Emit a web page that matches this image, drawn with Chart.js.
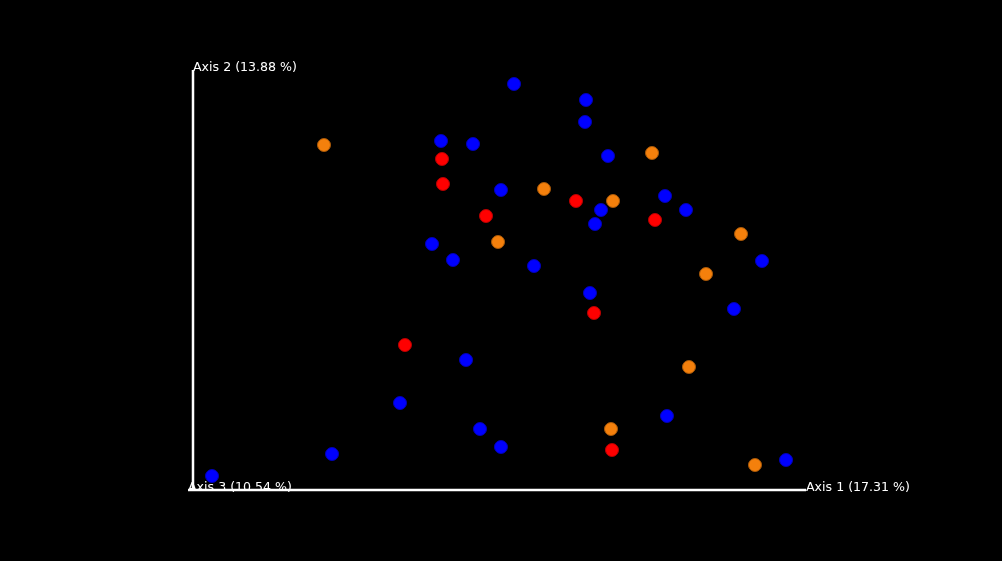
<!DOCTYPE html>
<html>
<head>
<meta charset="utf-8">
<script src="https://cdn.jsdelivr.net/npm/chart.js@4/dist/chart.umd.min.js"></script>
<style>
html,body{margin:0;padding:0;background:#000;}
#wrap{width:1002px;height:561px;position:relative;}
</style>
</head>
<body>
<div id="wrap"><canvas id="c" width="1002" height="561"></canvas></div>
<script>
// Axis labels
const axisLabels = ["Axis 1 (17.31 %)", "Axis 2 (13.88 %)", "Axis 3 (10.54 %)"];
const groupNames = ["Group A", "Group B", "Group C"];

// Group A (blue) coordinates: axis 1, axis 2
const blueX = [52.37, 64.11, 63.95, 40.46, 45.68, 67.70, 50.24, 77.00, 80.42, 66.56, 65.58, 38.99, 42.41, 55.63, 92.82, 64.76, 88.25, 44.54, 33.77, 77.32, 46.82, 50.24, 22.68, 96.74, 3.10];
const blueY = [96.67, 92.86, 87.62, 83.10, 82.38, 79.52, 71.43, 70.00, 66.67, 66.67, 63.33, 58.57, 54.76, 53.33, 54.52, 46.90, 43.10, 30.95, 20.71, 17.62, 14.52, 10.24, 8.57, 7.14, 3.33];

// Group B (red)
const redX = [40.62, 40.78, 47.80, 62.48, 75.37, 65.42, 34.58, 68.35];
const redY = [78.81, 72.86, 65.24, 68.81, 64.29, 42.14, 34.52, 9.52];

// Group C (orange)
const orangeX = [21.37, 74.88, 57.26, 68.52, 49.76, 89.40, 83.69, 80.91, 68.19, 91.68];
const orangeY = [82.14, 80.24, 71.67, 68.81, 59.05, 60.95, 51.43, 29.29, 14.52, 5.95];

function pts(xs, ys){ return xs.map((x,i)=>({x:x, y:ys[i]})); }

const axesPlugin = {
  id: 'pcoaAxes',
  beforeDatasetsDraw(chart){
    const ctx = chart.ctx, sx = chart.scales.x, sy = chart.scales.y;
    const x0 = sx.getPixelForValue(sx.min), x1 = sx.getPixelForValue(sx.max);
    const y0 = sy.getPixelForValue(sy.min), y1 = sy.getPixelForValue(sy.max);
    ctx.save();
    ctx.strokeStyle = '#ffffff';
    ctx.lineWidth = 2.5;
    ctx.beginPath();
    ctx.moveTo(x0, y0); ctx.lineTo(x0, y1);
    ctx.moveTo(x0 - 5, y0); ctx.lineTo(x1, y0);
    ctx.stroke();
    ctx.restore();
  },
  afterDatasetsDraw(chart){
    const ctx = chart.ctx, sx = chart.scales.x, sy = chart.scales.y;
    const x0 = sx.getPixelForValue(sx.min), x1 = sx.getPixelForValue(sx.max);
    const y0 = sy.getPixelForValue(sy.min), y1 = sy.getPixelForValue(sy.max);
    ctx.save();
    ctx.fillStyle = '#ffffff';
    ctx.font = '12.6px "DejaVu Sans", Verdana, sans-serif';
    ctx.textBaseline = 'alphabetic';
    ctx.textAlign = 'left';
    ctx.fillText(axisLabels[1], x0, y1 + 1);
    ctx.fillText(axisLabels[2], x0 - 5, y0 + 1);
    ctx.fillText(axisLabels[0], x1, y0 + 1);
    ctx.restore();
  }
};

new Chart(document.getElementById('c'), {
  type: 'scatter',
  data: {
    datasets: [
      {label: groupNames[0], data: pts(blueX, blueY), backgroundColor: '#0000ff', borderColor: '#0000b8', borderWidth: 1, pointRadius: 6.5, pointHoverRadius: 6.5},
      {label: groupNames[1], data: pts(redX, redY), backgroundColor: '#ff0000', borderColor: '#b80000', borderWidth: 1, pointRadius: 6.5, pointHoverRadius: 6.5},
      {label: groupNames[2], data: pts(orangeX, orangeY), backgroundColor: '#f4800c', borderColor: '#a85808', borderWidth: 1, pointRadius: 6.5, pointHoverRadius: 6.5}
    ]
  },
  options: {
    responsive: false,
    animation: false,
    layout: {padding: {left: 193, right: 196, top: 70, bottom: 71}},
    plugins: {legend: {display: false}, tooltip: {enabled: false}},
    scales: {
      x: {type: 'linear', min: 0, max: 100, display: false},
      y: {type: 'linear', min: 0, max: 100, display: false}
    }
  },
  plugins: [axesPlugin]
});
</script>
</body>
</html>
